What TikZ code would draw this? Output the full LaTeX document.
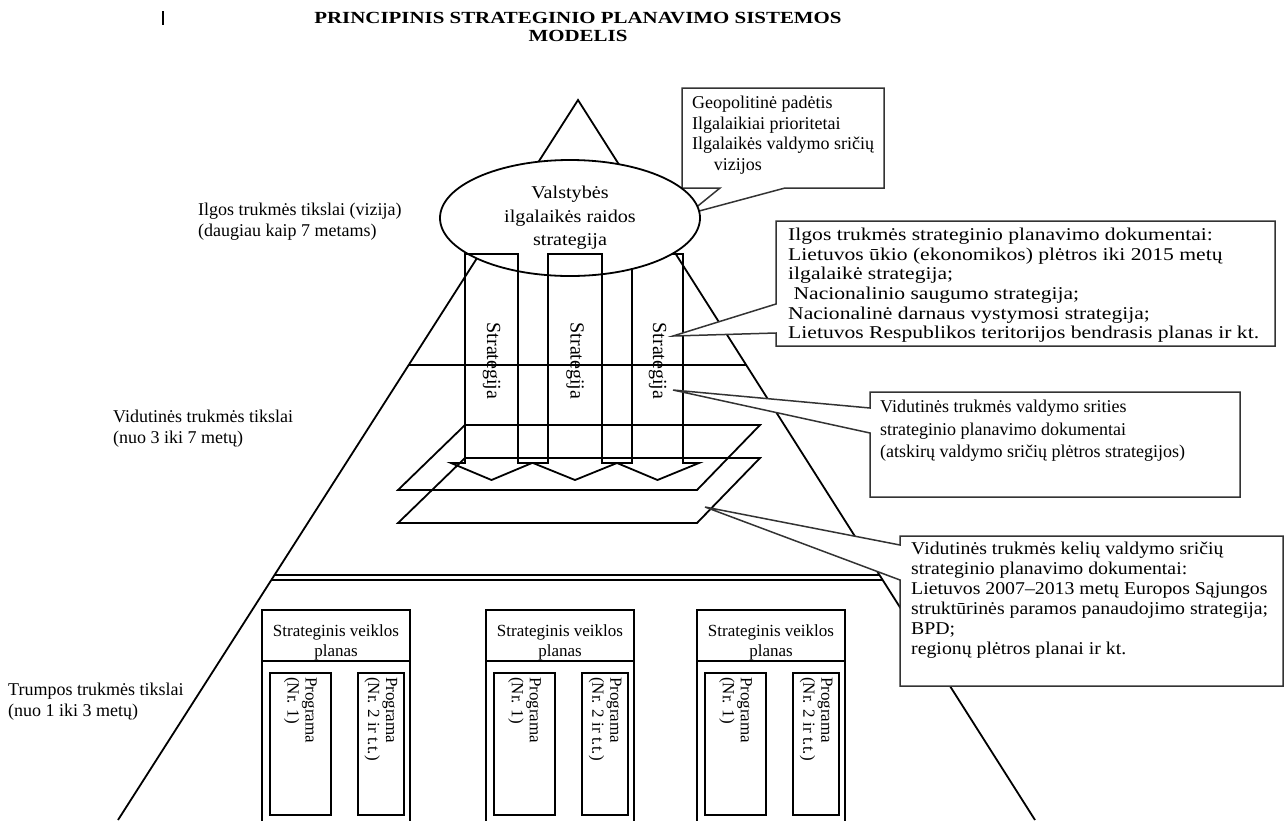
\documentclass[tikz,border=0pt]{standalone}
\usepackage{fontspec}
\setmainfont{Liberation Serif}
\newfontfamily\fsB{Liberation Serif}[FakeStretch=1.2]
\newfontfamily\fsD{Liberation Serif}[FakeStretch=1.1]
\newfontfamily\fsE{Liberation Serif}[FakeStretch=1.12]
\newfontfamily\fsT{Liberation Serif}[FakeStretch=1.23]
\usetikzlibrary{shapes.geometric}
\begin{document}
\begin{tikzpicture}[x=1pt,y=-1pt,line join=miter,
  edge/.style={line width=1.8pt},
  callout/.style={draw=black!80,line width=1.5pt,fill=white},
  body/.style={font=\fontsize{18}{20.5}\selectfont,align=left,inner sep=0pt,anchor=north west},
  lab/.style={font=\fontsize{18}{20.5}\selectfont,align=left,inner sep=0pt,anchor=north west},
  coltxt/.style={font=\fontsize{20}{22}\selectfont,rotate=-90,inner sep=0pt},
  progtxt/.style={font=\fontsize{17}{18}\selectfont,rotate=-90,anchor=west,align=left,inner sep=0pt},
  plan/.style={draw,line width=2.4pt},
  prog/.style={draw,line width=1.5pt}]
\useasboundingbox (0,0) rectangle (1285,820);
\clip (0,0) rectangle (1285,820);
\fill[white] (0,0) rectangle (1285,820);
% title
\node[font=\fsT\bfseries\fontsize{17}{18}\selectfont,align=center] (title) at (578,27) {PRINCIPINIS STRATEGINIO PLANAVIMO SISTEMOS\\MODELIS};
\draw[line width=2.5pt] (163,11) -- (163,25);
% pyramid
\coordinate (apex) at (578,100);
\coordinate (bl) at (118,820);
\coordinate (br) at (1035,820);
\draw[edge] (bl) -- (apex) -- (br);
\coordinate (hl) at (408.7,365); \coordinate (hr) at (746.2,365);
\draw[edge] (hl) -- (hr);
\coordinate (d1l) at (274.5,575); \coordinate (d1r) at (879.5,575);
\coordinate (d2l) at (271.3,580); \coordinate (d2r) at (882.7,580);
\draw[edge] (d1l) -- (d1r);
\draw[edge] (d2l) -- (d2r);
% planes
\draw[edge] (465,425) -- (760,425) -- (697,490) -- (398,490) -- cycle;
\draw[edge] (465,458) -- (760,458) -- (697,523) -- (398,523) -- cycle;
% column 3 (under ellipse)
\draw[edge] (632,254) -- (632,463) -- (617,463) -- (657.5,480) -- (699,463) -- (683,463) -- (683,254) -- cycle;
% callout A
\coordinate (tipA) at (688,214);
\draw[callout] (682,88) -- (884,88) -- (884,188) -- (785,188) -- (tipA) -- (720,188) -- (682,188) -- cycle;
\node[body] (ta) at (692,96) {Geopolitinė padėtis\\Ilgalaikiai prioritetai\\Ilgalaikės valdymo sričių\\\hspace*{1.2em}vizijos};
% ellipse
\node[ellipse,draw,line width=1.8pt,fill=white,minimum width=260pt,minimum height=116pt,inner sep=0pt,
  font=\fsE\fontsize{18}{23.5}\selectfont,align=center] (vision) at (570,218) {Valstybės\\ilgalaikės raidos\\strategija};
% columns 1,2
\draw[edge] (465,254) -- (465,463) -- (451,463) -- (491.5,480) -- (532,463) -- (518,463) -- (518,254) -- cycle;
\draw[edge] (548,254) -- (548,463) -- (533,463) -- (575,480) -- (617,463) -- (602,463) -- (602,254) -- cycle;
\node[coltxt] (s1) at (491.5,361) {Strategija};
\node[coltxt] (s2) at (575,361) {Strategija};
\node[coltxt] (s3) at (657.5,361) {Strategija};
% callout B
\coordinate (tipB) at (673,336);
\draw[callout] (776,221) -- (1275,221) -- (1275,346) -- (776,346) -- (776,333) -- (tipB) -- (776,304) -- cycle;
\node[body,font=\fsB\fontsize{18}{19.6}\selectfont] (tb) at (788,228) {Ilgos trukmės strateginio planavimo dokumentai:\\Lietuvos ūkio (ekonomikos) plėtros iki 2015 metų\\ilgalaikė strategija;\\\hspace*{0.3em}Nacionalinio saugumo strategija;\\Nacionalinė darnaus vystymosi strategija;\\Lietuvos Respublikos teritorijos bendrasis planas ir kt.};
% callout C
\coordinate (tipC) at (673,390);
\draw[callout] (870,392) -- (1240,392) -- (1240,497) -- (870,497) -- (870,433) -- (tipC) -- (870,408) -- cycle;
\node[body,font=\fontsize{18}{22.5}\selectfont] (tc) at (880,400) {Vidutinės trukmės valdymo srities\\strateginio planavimo dokumentai\\(atskirų valdymo sričių plėtros strategijos)};
% callout D
\coordinate (tipD) at (705,507);
\draw[callout] (900,536) -- (1283,536) -- (1283,686) -- (900,686) -- (900,580) -- (tipD) -- (900,545) -- cycle;
\node[body,font=\fsD\fontsize{18}{20}\selectfont] (td) at (911,542) {Vidutinės trukmės kelių valdymo sričių\\strateginio planavimo dokumentai:\\Lietuvos 2007–2013 metų Europos Sąjungos\\struktūrinės paramos panaudojimo strategija;\\BPD;\\regionų plėtros planai ir kt.};
% left labels
\node[lab] (l1) at (198,203) {Ilgos trukmės tikslai (vizija)\\(daugiau kaip 7 metams)};
\node[lab] (l2) at (113,410) {Vidutinės trukmės tikslai\\(nuo 3 iki 7 metų)};
\node[lab] (l3) at (8,683) {Trumpos trukmės tikslai\\(nuo 1 iki 3 metų)};
% bottom plans
\foreach \i/\x in {1/262,2/486,3/697}{
  \draw[plan] (\x,610) rectangle ++(148,220);
  \draw[line width=1.3pt] (\x,661) -- ++(148,0);
  \node[font=\fontsize{17}{20}\selectfont,align=center,inner sep=0pt] (p\i) at (\x+74,642) {Strateginis veiklos\\planas};
  \draw[prog] (\x+8,673) rectangle ++(61,142);
  \draw[prog] (\x+96,673) rectangle ++(46,142);
  \node[progtxt] (pa\i) at (\x+38.5,677) {Programa\\(Nr. 1)};
  \node[progtxt] (pb\i) at (\x+119,677) {Programa\\(Nr. 2 ir t.t.)};
}
\end{tikzpicture}
\end{document}
